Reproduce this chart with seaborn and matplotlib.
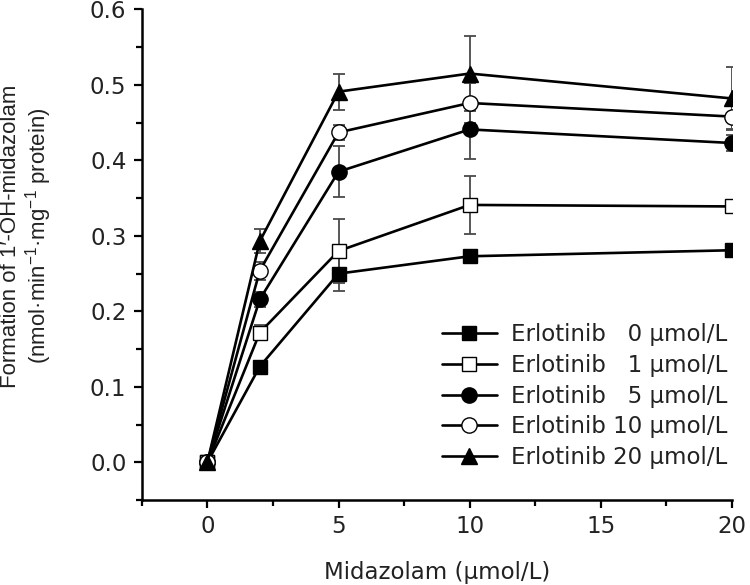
import numpy as np
import pandas as pd
import matplotlib
matplotlib.use("Agg")
import matplotlib.pyplot as plt
from matplotlib.ticker import MultipleLocator
import seaborn as sns

# ---- data ----
midazolam = [0, 2, 5, 10, 20]
labels = ["Erlotinib \u20070 μmol/L", "Erlotinib \u20071 μmol/L", "Erlotinib \u20075 μmol/L",
          "Erlotinib 10 μmol/L", "Erlotinib 20 μmol/L"]
erl0 = [0.0, 0.127, 0.250, 0.273, 0.281]
erl1 = [0.0, 0.172, 0.280, 0.341, 0.339]
erl5 = [0.0, 0.216, 0.385, 0.441, 0.423]
erl10 = [0.0, 0.254, 0.437, 0.476, 0.458]
erl20 = [0.0, 0.293, 0.491, 0.515, 0.482]
err0 = [0.0, 0.006, 0.023, 0.006, 0.006]
err1 = [0.0, 0.010, 0.043, 0.038, 0.006]
err5 = [0.0, 0.010, 0.034, 0.039, 0.010]
err10 = [0.0, 0.012, 0.010, 0.026, 0.016]
err20 = [0.0, 0.016, 0.024, 0.050, 0.042]

series = [erl0, erl1, erl5, erl10, erl20]
errors = [err0, err1, err5, err10, err20]
markers = ["s", "s", "o", "o", "^"]
faces = ["black", "white", "black", "white", "black"]
msizes = [9.5, 9.5, 11, 11, 12]

sns.set_theme(style="ticks")
plt.rcParams["font.family"] = ["DejaVu Sans"]
plt.rcParams["mathtext.fontset"] = "custom"
plt.rcParams["mathtext.rm"] = "Liberation Sans"
plt.rcParams["mathtext.it"] = "Liberation Sans"

fig = plt.figure(figsize=(7.5, 5.85), dpi=100)
ax = fig.add_axes([0.189, 0.145, 0.787, 0.839])

for y, e, lab, m, fc, ms in zip(series, errors, labels, markers, faces, msizes):
    df = pd.DataFrame({"x": midazolam, "y": y})
    ax.errorbar(midazolam, y, yerr=e, fmt="none", ecolor="#4a4a4a",
                elinewidth=1.3, capsize=4.5, capthick=1.3, zorder=2)
    sns.lineplot(data=df, x="x", y="y", ax=ax, color="black", linewidth=1.9,
                 marker=m, markersize=ms, markerfacecolor=fc,
                 markeredgecolor="black", markeredgewidth=1.0,
                 label=lab, zorder=3)

ax.set_xlim(-2.5, 20)
ax.set_ylim(-0.05, 0.6)
ax.xaxis.set_major_locator(MultipleLocator(5))
ax.xaxis.set_minor_locator(MultipleLocator(2.5))
ax.yaxis.set_major_locator(MultipleLocator(0.1))
ax.yaxis.set_minor_locator(MultipleLocator(0.05))
ax.set_xticks([0, 5, 10, 15, 20])
ax.set_yticks([0.0, 0.1, 0.2, 0.3, 0.4, 0.5, 0.6])
ax.set_yticklabels(["0.0", "0.1", "0.2", "0.3", "0.4", "0.5", "0.6"])

for sp in ["top", "right"]:
    ax.spines[sp].set_visible(False)
for sp in ["left", "bottom"]:
    ax.spines[sp].set_linewidth(1.8)
    ax.spines[sp].set_color("black")

ax.tick_params(which="major", direction="out", length=6, width=1.6,
               labelsize=16.5, colors="black", pad=5)
ax.tick_params(which="minor", direction="out", length=4, width=1.6, colors="black")
ax.tick_params(labelcolor="#222222")

ax.set_xlabel("Midazolam (μmol/L)", fontsize=16.5, labelpad=16, color="#222222")
ax.set_ylabel("Formation of 1′-OH-midazolam\n(nmol·min$^{-1}$·mg$^{-1}$ protein)",
              fontsize=16, family="Liberation Sans", linespacing=1.1, color="#222222")
ax.yaxis.set_label_coords(-0.149, 0.538)

leg = ax.legend(loc="lower right", bbox_to_anchor=(1.015, 0.035), frameon=False,
                fontsize=16.5, handlelength=2.4, handletextpad=0.6,
                labelspacing=0.34, borderaxespad=0.2)
for t in leg.get_texts():
    t.set_color("#222222")

fig.savefig("out.png", dpi=100)
